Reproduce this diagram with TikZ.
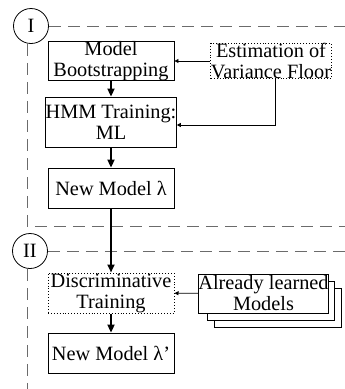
\documentclass[tikz,border=0pt]{standalone}
\usepackage{fontspec}
\setmainfont{Liberation Serif}
\usetikzlibrary{arrows.meta,calc}
\begin{document}
\begin{tikzpicture}[x=1pt,y=-1pt,
  font=\fontsize{20.3}{21}\selectfont,
  box/.style={draw,line width=0.9pt,inner sep=0pt,align=center,fill=white},
  dotbox/.style={box,dotted,line width=1pt},
  frame/.style={draw=black!58,dash pattern=on 12pt off 7pt,line width=1pt},
  phase/.style={draw,circle,line width=0.8pt,minimum size=35pt,inner sep=0pt},
  thickarrow/.style={line width=2pt,-{Triangle[length=8pt,width=7pt]}},
  thinarrow/.style={line width=0.8pt,-{Triangle[length=4pt,width=4pt]}}]
\useasboundingbox (0,0) rectangle (345,389);
% frames
\node[phase] (p1) at (31,26) {I};
\node[phase] (p2) at (30,251) {II};
\coordinate (f1r) at (345,26);
\coordinate (f1b) at (27,226);
\coordinate (f1br) at (345,226);
\coordinate (f2r) at (345,251);
\coordinate (f2b) at (27,389);
\draw[frame] (p1.east) -- (f1r);
\draw[frame] (p1.south -| f1b) -- (f1b) -- (f1br);
\draw[frame] (p2.east) -- (f2r);
\draw[frame] (p2.south -| f2b) -- (f2b);
% boxes
\node[box,minimum width=126pt,minimum height=32pt] (boot) at (111,61) {Model\\Bootstrapping};
\node[dotbox,minimum width=118pt,minimum height=32pt] (est) at (271,61) {Estimation of\\Variance Floor};
\node[box,minimum width=126pt,minimum height=50pt] (hmm) at (111,122) {HMM Training:\\ML};
\node[box,minimum width=126pt,minimum height=40pt] (new1) at (111,188) {New Model λ};
\node[dotbox,minimum width=126pt,minimum height=40pt] (disc) at (111,293) {Discriminative\\Training};
\node[box,minimum width=126pt,minimum height=40pt] (new2) at (111,353) {New Model λ’};
\node[box,minimum width=127pt,minimum height=39pt] (al3) at (277.5,307.5) {};
\node[box,minimum width=127pt,minimum height=39pt] (al2) at (270.5,300.5) {};
\node[box,minimum width=127pt,minimum height=39pt] (al) at (263.5,293.5) {Already learned\\Models};
% connectors
\draw[thickarrow] (boot) -- (hmm);
\draw[thinarrow] (est) -- (boot);
\draw[thinarrow] ($(est.south)+(4,0)$) |- ($(hmm.east)+(0,3)$);
\draw[thickarrow] (hmm) -- (new1);
\draw[thickarrow] (new1) -- (disc);
\draw[thinarrow] (al) -- (disc);
\draw[thickarrow] (disc) -- (new2);
\end{tikzpicture}
\end{document}
